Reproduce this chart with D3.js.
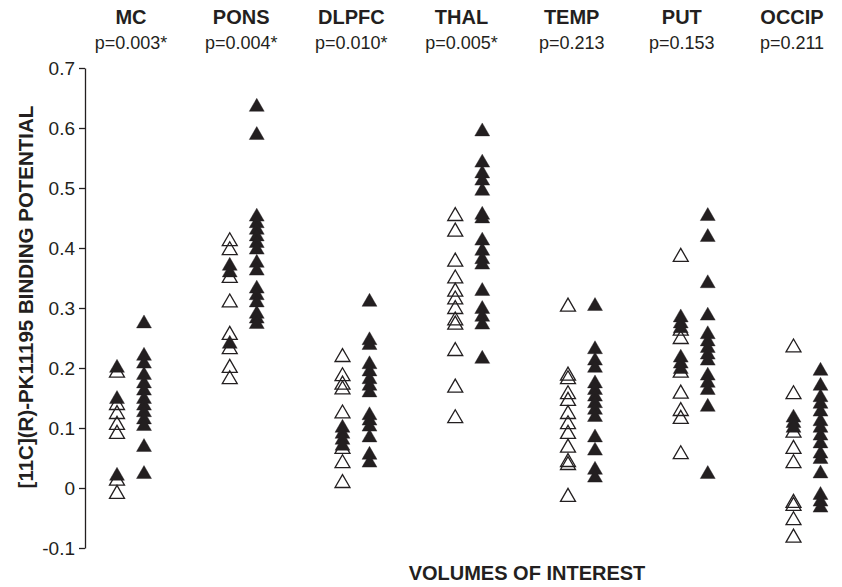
<!DOCTYPE html>
<html>
<head>
<meta charset="utf-8">
<script src="https://cdn.jsdelivr.net/npm/d3@7"></script>
<style>
  body { margin: 0; background: #fff; }
  svg { display: block; font-family: "Liberation Sans", Arial, sans-serif; }
</style>
</head>
<body>
<div id="chart-area"></div>
<script>
// Regiones y valores p
var regions = ["MC", "PONS", "DLPFC", "THAL", "TEMP", "PUT", "OCCIP"];
var pValues = ["p=0.003*", "p=0.004*", "p=0.010*", "p=0.005*", "p=0.213", "p=0.153", "p=0.211"];
var yTicks = [-0.1, 0, 0.1, 0.2, 0.3, 0.4, 0.5, 0.6, 0.7];

// Controles (triángulos abiertos), una lista por región
var controlsOpen = [
    [0.192, 0.138, 0.123, 0.105, 0.090, 0.012, -0.010],
    [0.411, 0.396, 0.350, 0.309, 0.255, 0.231, 0.200, 0.181],
    [0.218, 0.186, 0.172, 0.164, 0.124, 0.065, 0.041, 0.008],
    [0.453, 0.427, 0.377, 0.349, 0.327, 0.314, 0.298, 0.279, 0.272, 0.228, 0.167, 0.116],
    [0.302, 0.187, 0.181, 0.156, 0.145, 0.123, 0.106, 0.090, 0.067, 0.043, 0.038, -0.015],
    [0.385, 0.262, 0.248, 0.192, 0.157, 0.128, 0.115, 0.056],
    [0.234, 0.156, 0.092, 0.065, 0.041, -0.025, -0.030, -0.054, -0.083]
];
// Triángulos llenos dibujados en la columna de controles
var controlsFilled = [
    [0.200, 0.148, 0.020],
    [0.370, 0.359, 0.240],
    [0.100, 0.090, 0.080, 0.070],
    [],
    [],
    [0.284, 0.274, 0.266, 0.217, 0.207, 0.198],
    [0.117, 0.108, 0.100]
];
// Pacientes (triángulos llenos)
var patients = [
    [0.274, 0.220, 0.207, 0.188, 0.174, 0.162, 0.148, 0.137, 0.126, 0.114, 0.103, 0.068, 0.023],
    [0.635, 0.588, 0.452, 0.441, 0.430, 0.419, 0.408, 0.397, 0.375, 0.362, 0.332, 0.321, 0.309, 0.290, 0.282, 0.273],
    [0.310, 0.246, 0.238, 0.206, 0.194, 0.181, 0.170, 0.159, 0.121, 0.112, 0.102, 0.084, 0.055, 0.042],
    [0.594, 0.542, 0.524, 0.512, 0.495, 0.455, 0.449, 0.412, 0.395, 0.381, 0.372, 0.328, 0.298, 0.285, 0.272, 0.215],
    [0.303, 0.231, 0.212, 0.200, 0.174, 0.163, 0.152, 0.141, 0.130, 0.118, 0.084, 0.062, 0.030, 0.017],
    [0.453, 0.418, 0.341, 0.287, 0.256, 0.244, 0.233, 0.222, 0.212, 0.187, 0.175, 0.163, 0.135, 0.023],
    [0.195, 0.170, 0.151, 0.140, 0.127, 0.111, 0.100, 0.087, 0.074, 0.057, 0.048, 0.024, -0.012, -0.023, -0.033]
];

var ink = "#231f20";
var width = 842, height = 587;

var svg = d3.select("#chart-area").append("svg")
    .attr("width", width)
    .attr("height", height);

// Escalas
var y = d3.scaleLinear().domain([-0.1, 0.7]).range([548, 68]);
var x = d3.scalePoint().domain(regions).range([130.5, 807]);
var xHead = d3.scalePoint().domain(regions).range([131, 792]);
var offset = 13.5;

// Eje Y
var yAxis = svg.append("g")
    .attr("transform", "translate(85,0)")
    .call(d3.axisLeft(y)
        .tickValues(yTicks)
        .tickSize(6)
        .tickSizeOuter(0)
        .tickPadding(4)
        .tickFormat(function(d) { return d === 0 ? "0" : d.toFixed(1); }));
yAxis.selectAll("path, line").attr("stroke", ink).attr("stroke-width", 1.3);
yAxis.selectAll("text")
    .attr("fill", ink)
    .style("font-size", "19px")
    .style("font-family", "'Liberation Sans', Arial, sans-serif");

// Títulos de los ejes
svg.append("text")
    .attr("transform", "translate(33,297) rotate(-90)")
    .attr("text-anchor", "middle")
    .attr("fill", ink)
    .style("font-size", "20.5px")
    .style("font-weight", "bold")
    .text("[11C](R)-PK11195 BINDING POTENTIAL");

svg.append("text")
    .attr("x", 527)
    .attr("y", 580)
    .attr("text-anchor", "middle")
    .attr("fill", ink)
    .style("font-size", "20px")
    .style("font-weight", "bold")
    .text("VOLUMES OF INTEREST");

// Encabezados de región y valores p
svg.selectAll(".region-name")
    .data(regions)
    .enter().append("text")
    .attr("class", "region-name")
    .attr("x", function(d) { return xHead(d); })
    .attr("y", 24)
    .attr("text-anchor", "middle")
    .attr("fill", ink)
    .style("font-size", "20px")
    .style("font-weight", "bold")
    .text(function(d) { return d; });

svg.selectAll(".p-value")
    .data(regions)
    .enter().append("text")
    .attr("class", "p-value")
    .attr("x", function(d) { return xHead(d); })
    .attr("y", 49)
    .attr("text-anchor", "middle")
    .attr("fill", ink)
    .style("font-size", "18px")
    .text(function(d, i) { return pValues[i]; });

// Triángulos
var tri = d3.symbol().type(d3.symbolTriangle).size(97);

function flatten(lists, dx) {
    var out = [];
    lists.forEach(function(vals, i) {
        vals.forEach(function(v) { out.push({ region: regions[i], value: v, dx: dx }); });
    });
    return out;
}

function drawPoints(data, cls, filled) {
    svg.selectAll("." + cls)
        .data(data)
        .enter().append("path")
        .attr("class", cls)
        .attr("d", tri)
        .attr("transform", function(d) {
            return "translate(" + (x(d.region) + d.dx) + "," + y(d.value) + ")";
        })
        .attr("fill", filled ? ink : "none")
        .attr("stroke", ink)
        .attr("stroke-width", filled ? 0.4 : 1.3);
}

drawPoints(flatten(controlsOpen, -offset), "ctrl-open", false);
drawPoints(flatten(controlsFilled, -offset), "ctrl-filled", true);
drawPoints(flatten(patients, offset), "patient", true);
</script>
</body>
</html>
